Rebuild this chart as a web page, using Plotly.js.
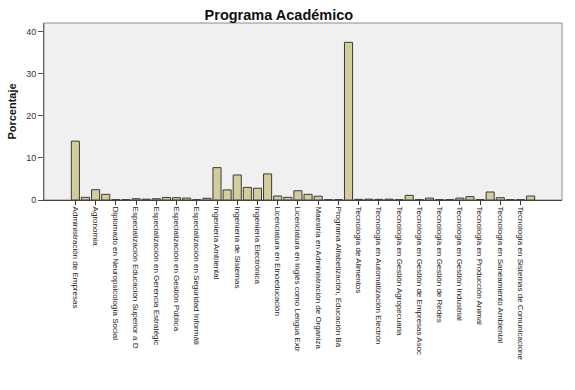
<!DOCTYPE html>
<html>
<head>
<meta charset="utf-8">
<script src="https://cdn.plot.ly/plotly-3.0.1.min.js"></script>
<style>html,body{margin:0;padding:0;background:#fff;}#chart{width:575px;height:390px;}</style>
</head>
<body>
<div id="chart"></div>
<script>
// Percent for each of the 46 programmes (bars, left to right)
const percentages = [
  14.0, 0.63, 2.45, 1.35, 0.08, 0.08, 0.3, 0.2, 0.3, 0.6,
  0.55, 0.45, 0.08, 0.4, 7.7, 2.4, 5.95, 3.0, 2.8, 6.2,
  0.95, 0.63, 2.2, 1.35, 0.9, 0.08, 0.08, 37.5, 0.15, 0.2,
  0.15, 0.2, 0.08, 1.1, 0.08, 0.45, 0.08, 0.08, 0.45, 0.8,
  0.08, 1.9, 0.55, 0.08, 0.08, 0.95
];
// Only every other category is labelled on the axis
const tickLabels = [
  "Administración de Empresas",
  "Agronomía",
  "Diplomado en Neuropsicología Social",
  "Especialización Educación Superior a D",
  "Especialización en Gerencia Estratégic",
  "Especialización en Gestión Pública",
  "Especialización en Seguridad Informáti",
  "Ingeniería Ambiental",
  "Ingeniería de Sistemas",
  "Ingeniería Electrónica",
  "Licenciatura en Etnoeducación",
  "Licenciatura en Inglés como Lengua Extr",
  "Maestría en Administración de Organiza",
  "Programa Alfabetización, Educación Bá",
  "Tecnología de Alimentos",
  "Tecnología en Automatización Electrón",
  "Tecnología en Gestión Agropecuaria",
  "Tecnología en Gestión de Empresas Asoc",
  "Tecnología en Gestión de Redes",
  "Tecnología en Gestión Industrial",
  "Tecnología en Producción Animal",
  "Tecnología en Saneamiento Ambiental",
  "Tecnología en Sistemas de Comunicacione"
];
const yTicks = [0, 10, 20, 30, 40];

const xIdx = percentages.map((_, i) => i);
const tickVals = tickLabels.map((_, i) => i * 2);

const trace = {
  type: 'bar',
  x: xIdx,
  y: percentages,
  width: 0.8,
  marker: { color: '#d3ce99', line: { color: '#3a3a3a', width: 1 } },
  hoverinfo: 'none'
};

const layout = {
  width: 575, height: 390,
  margin: { l: 44, r: 13, t: 23, b: 190 },
  paper_bgcolor: '#ffffff',
  plot_bgcolor: '#f0f0f0',
  font: { family: 'Liberation Sans, Arial, sans-serif', color: '#222' },
  title: {
    text: '<b>Programa Académico</b>',
    font: { size: 14.5, color: '#111' },
    x: 0.485, xref: 'container', xanchor: 'center',
    y: 0.962, yref: 'container', yanchor: 'middle'
  },
  showlegend: false,
  bargap: 0.2,
  xaxis: {
    range: [-3.1, 48.1],
    tickmode: 'array', tickvals: tickVals, ticktext: tickLabels,
    tickangle: 90,
    tickfont: { size: 8, color: '#222' },
    ticks: 'outside', ticklen: 4, tickcolor: '#333', tickwidth: 1,
    showline: true, linecolor: '#444', linewidth: 1,
    showgrid: false, zeroline: false, fixedrange: true
  },
  yaxis: {
    range: [0, 42.1],
    tickmode: 'array', tickvals: yTicks, ticktext: yTicks.map(String),
    tickfont: { size: 9, color: '#333' },
    ticks: 'outside', ticklen: 5, tickcolor: '#555', tickwidth: 1,
    showline: true, linecolor: '#666', linewidth: 1,
    showgrid: false, zeroline: false, fixedrange: true,
    title: { text: '<b>Porcentaje</b>', font: { size: 11, color: '#111' }, standoff: 7 }
  },
  shapes: [{
    type: 'rect', xref: 'paper', yref: 'paper', x0: 0, x1: 1, y0: 0, y1: 1,
    line: { color: '#8c8c8c', width: 1 }, fillcolor: 'rgba(0,0,0,0)', layer: 'below'
  }]
};

Plotly.newPlot('chart', [trace], layout, { staticPlot: true, displayModeBar: false });
</script>
</body>
</html>
